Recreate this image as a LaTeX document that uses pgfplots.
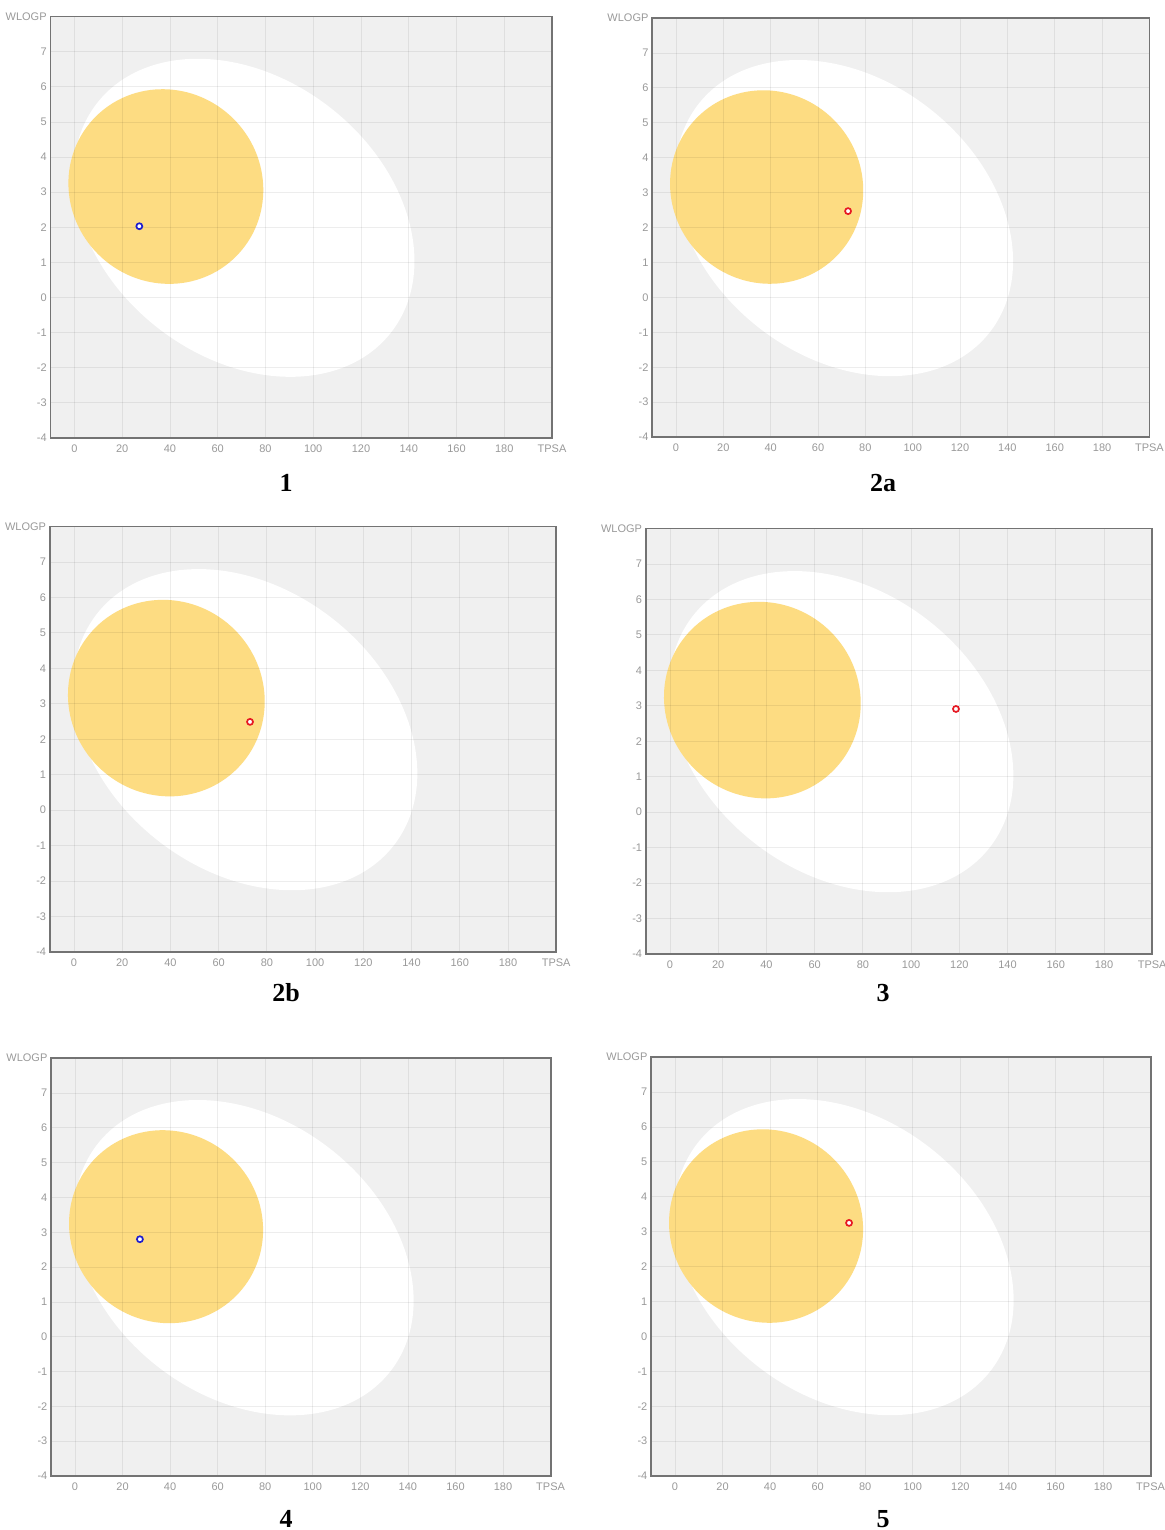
\documentclass[border=0pt]{standalone}
\usepackage{pgfplots}
\pgfplotsset{compat=1.18}
\usepackage{fontspec}
\setmainfont{Liberation Sans}
\newfontfamily\labfont{Liberation Serif}
\definecolor{bggray}{RGB}{240,240,240}
\definecolor{yolk}{RGB}{253,220,130}
\definecolor{ptblue}{RGB}{30,30,205}
\definecolor{ptred}{RGB}{230,25,35}
\newcommand{\egg}{%
  \pgfplotsextra{%
    \begin{pgfscope}
      \pgfpathellipse{\pgfplotspointaxisxy{71.05}{2.27}}%
        {\pgfplotspointaxisdirectionxy{61.55}{-3.266}}%
        {\pgfplotspointaxisdirectionxy{36.08}{3.137}}%
      \pgfsetfillcolor{white}\pgfusepath{fill}
      \pgfpathellipse{\pgfplotspointaxisxy{38.3}{3.16}}%
        {\pgfplotspointaxisdirectionxy{29.34}{-1.993}}%
        {\pgfplotspointaxisdirectionxy{28.36}{1.926}}%
      \pgfsetfillcolor{yolk}\pgfusepath{fill}
    \end{pgfscope}}}
\pgfplotsset{eggax/.style={
  scale only axis, anchor=south west,
  xmin=-10, xmax=200, ymin=-4, ymax=8,
  xtick={0,20,40,60,80,100,120,140,160,180,200},
  ytick={-4,-3,-2,-1,0,1,2,3,4,5,6,7,8},
  xticklabels={0,20,40,60,80,100,120,140,160,180,TPSA},
  yticklabels={-4,-3,-2,-1,0,1,2,3,4,5,6,7,WLOGP},
  major tick length=0pt,
  grid=major, major grid style={black, opacity=0.07, line width=0.4pt},
  axis background/.style={fill=bggray},
  axis line style={black!55, line width=0.9pt},
  tick label style={font=\fontsize{5.5}{6}\selectfont, text=black!40},
  yticklabel style={xshift=1.6pt},
  axis on top,
}}
\tikzset{pt/.style={only marks, mark=*, mark size=1.5pt, mark options={line width=0.85pt, draw=#1, fill=white}}}
\begin{document}
\begin{tikzpicture}
\useasboundingbox (0,0) rectangle (582pt,765pt);
\clip (0,0) rectangle (582pt,765pt);
% Panel 1
\begin{axis}[eggax, at={(25.25pt,546pt)}, width=250.75pt, height=210.7pt]
\egg
\addplot[pt=ptblue] coordinates {(27.2,2.03)};
\end{axis}
% Panel 2a
\begin{axis}[eggax, at={(326.15pt,546.5pt)}, width=248.55pt, height=209.45pt]
\egg
\addplot[pt=ptred] coordinates {(72.7,2.47)};
\end{axis}
% Panel 2b
\begin{axis}[eggax, at={(24.95pt,289pt)}, width=253.15pt, height=212.75pt]
\egg
\addplot[pt=ptred] coordinates {(73.0,2.49)};
\end{axis}
% Panel 3
\begin{axis}[eggax, at={(322.95pt,288pt)}, width=253.15pt, height=212.75pt]
\egg
\addplot[pt=ptred] coordinates {(118.6,2.91)};
\end{axis}
% Panel 4
\begin{axis}[eggax, at={(25.6pt,27pt)}, width=249.7pt, height=208.9pt]
\egg
\addplot[pt=ptblue] coordinates {(27.3,2.80)};
\end{axis}
% Panel 5
\begin{axis}[eggax, at={(325.6pt,27pt)}, width=249.7pt, height=209.45pt]
\egg
\addplot[pt=ptred] coordinates {(73.2,3.25)};
\end{axis}
\begin{scope}[every node/.style={font=\labfont\bfseries\fontsize{13}{13}\selectfont, inner sep=0pt}]
\node at (143pt,523.5pt) {1};
\node at (441.5pt,523.5pt) {2a};
\node at (143pt,268.5pt) {2b};
\node at (441.5pt,268.5pt) {3};
\node[anchor=base] at (143pt,1.5pt) {4};
\node[anchor=base] at (441.5pt,1.5pt) {5};
\end{scope}
\end{tikzpicture}
\end{document}
